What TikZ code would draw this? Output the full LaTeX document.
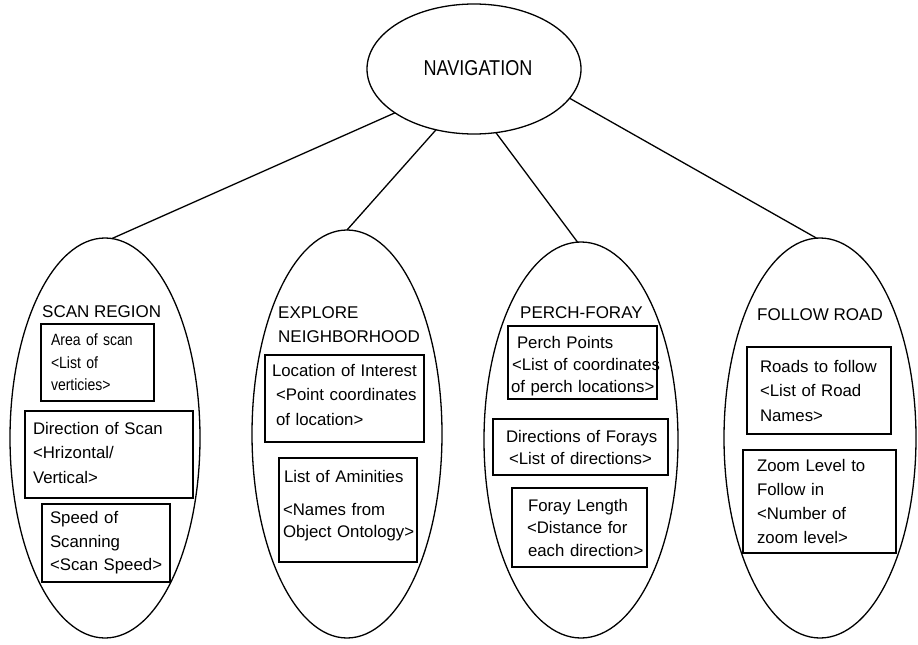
\documentclass[tikz,border=0pt]{standalone}
\usepackage{fontspec}
\setmainfont{Liberation Sans}
\newfontfamily\navfont[FakeStretch=0.84]{Liberation Sans}
\newfontfamily\narrowfont[FakeStretch=0.86]{Liberation Sans}
\usetikzlibrary{shapes.geometric}
\newcommand\dpadd[1]{\rule[-#1pt]{0pt}{1pt}}
\newcommand\htadd[1]{\rule{0pt}{#1pt}}
\begin{document}
\begin{tikzpicture}[x=1pt,y=-1pt,
  oval/.style={ellipse, draw, line width=1.3pt, inner sep=0pt, outer sep=0pt},
  box/.style={draw, line width=1.2pt, align=left, inner ysep=0pt, outer sep=0pt},
  ttl/.style={anchor=north west, inner sep=0pt, align=left, font=\fontsize{17}{24}\selectfont},
  link/.style={line width=1.3pt}]
\useasboundingbox (0,0) rectangle (918,645);

% ellipses
\node[oval, minimum width=214pt, minimum height=130pt, font=\navfont\fontsize{21.5}{24}\selectfont] (nav) at (474,69) {\raisebox{3pt}{\hspace*{8pt}NAVIGATION}};
\node[oval, minimum width=190pt, minimum height=400pt] (scan) at (105,438) {};
\node[oval, minimum width=190pt, minimum height=408pt] (expl) at (347,434) {};
\node[oval, minimum width=194pt, minimum height=396pt] (perch) at (581,440) {};
\node[oval, minimum width=192pt, minimum height=400pt] (road) at (820,438) {};

% connectors
\draw[link] (nav.209) -- (scan.88);
\draw[link] (nav.238.6) -- (expl.90);
\draw[link] (nav.289.8) -- (perch.91);
\draw[link] (nav.343.7) -- (road.91.4);

% titles
\node[ttl] (tscan) at (42,305.8) {SCAN REGION};
\node[ttl] (texpl) at (278,306.8) {EXPLORE\\NEIGHBORHOOD};
\node[ttl] (tperch) at (520,306.8) {PERCH-FORAY};
\node[ttl] (troad) at (757,308.8) {FOLLOW ROAD};

% scan region boxes
\node[box, text width=93pt, inner xsep=10pt, minimum height=77pt,
  font=\narrowfont\fontsize{16.3}{22.5}\selectfont] (sA) at (97.5,362.5)
  {Area of scan\\<List of\\verticies>};
\node[box, text width=152pt, inner xsep=8pt, minimum height=87pt,
  font=\fontsize{16.8}{24.5}\selectfont] (sD) at (109,454.5)
  {Direction of Scan\\<Hrizontal/\\Vertical>\dpadd{4}};
\node[box, text width=112pt, inner xsep=8pt, minimum height=78pt,
  font=\fontsize{16.8}{23.5}\selectfont] (sS) at (106,543)
  {Speed of\\Scanning\\\mbox{<Scan Speed>}};

% explore boxes
\node[box, text width=145pt, inner xsep=7pt, minimum height=87pt,
  font=\fontsize{16.8}{24.5}\selectfont] (eL) at (344.5,398.5)
  {Location of Interest\\\hspace*{4pt}<Point coordinates\\\hspace*{4pt}of location>\dpadd{8}};
\node[box, text width=130pt, inner xsep=4pt, minimum height=104pt,
  font=\fontsize{16.8}{22}\selectfont] (eA) at (348,510)
  {\hspace*{1pt}List of Aminities\\[11pt]<Names from\\\mbox{Object Ontology>}\dpadd{13}};

% perch-foray boxes
\node[box, text width=143pt, inner xsep=3pt, minimum height=73pt,
  font=\fontsize{16.8}{22}\selectfont] (pP) at (582.5,362.5)
  {\htadd{20.3}\hspace*{6pt}Perch Points\\\hspace*{1pt}\mbox{<List of coordinates}\\\mbox{of perch locations>}};
\node[box, text width=149pt, inner xsep=13pt, minimum height=56pt,
  font=\fontsize{16.8}{22}\selectfont] (pD) at (580.5,447)
  {\mbox{Directions of Forays}\\\hspace*{3pt}<List of directions>};
\node[box, text width=105pt, inner xsep=15pt, minimum height=79pt,
  font=\fontsize{16.8}{22.5}\selectfont] (pF) at (579.5,527.5)
  {\hspace*{1pt}\mbox{Foray Length}\\\mbox{<Distance for}\\\hspace*{1pt}\mbox{each direction>}};

% follow road boxes
\node[box, text width=118pt, inner xsep=13pt, minimum height=87pt,
  font=\fontsize{16.8}{24.5}\selectfont] (fR) at (819,390.5)
  {Roads to follow\\<List of Road\\Names>};
\node[box, text width=125pt, inner xsep=14pt, minimum height=103pt,
  font=\fontsize{16.8}{23.7}\selectfont] (fZ) at (819.5,501.5)
  {Zoom Level to\\Follow in\\<Number of\\zoom level>};
\end{tikzpicture}
\end{document}
